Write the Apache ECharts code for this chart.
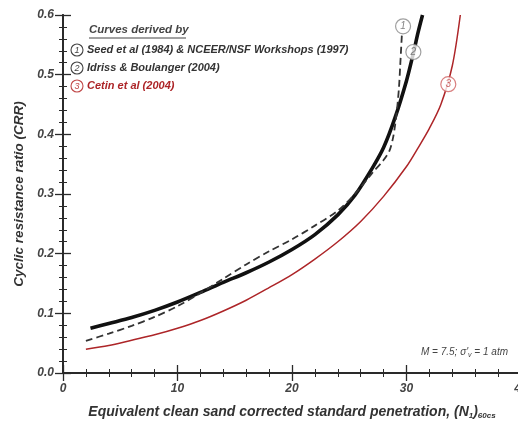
<!DOCTYPE html>
<html>
<head>
<meta charset="utf-8">
<script src="https://cdn.jsdelivr.net/npm/echarts@6/dist/echarts.min.js"></script>
<style>
html,body{margin:0;padding:0;background:#fff;}
#c{width:518px;height:425px;}
</style>
</head>
<body>
<div id="c"></div>
<script>
// ---- data ----
const seedN   = [2.4, 4, 6, 8, 10, 12, 14, 16, 18, 20, 22, 24, 25.5, 27, 28, 29, 30, 30.6, 31, 31.4];
const seedCRR = [0.075, 0.083, 0.093, 0.105, 0.119, 0.135, 0.152, 0.168, 0.186, 0.207, 0.232, 0.265, 0.298, 0.343, 0.378, 0.428, 0.49, 0.536, 0.57, 0.6];

const idrissN   = [2, 4, 6, 8, 10, 12, 14, 16, 18, 20, 22, 24, 25.5, 27, 28, 28.5, 28.8, 29.0, 29.2, 29.35, 29.45, 29.6];
const idrissCRR = [0.054, 0.066, 0.079, 0.094, 0.112, 0.134, 0.158, 0.182, 0.204, 0.224, 0.247, 0.272, 0.300, 0.335, 0.357, 0.372, 0.392, 0.415, 0.447, 0.48, 0.515, 0.568];

const cetinN   = [2, 4, 6, 8, 10, 12, 14, 16, 18, 20, 22, 24, 26, 28, 30, 31, 32, 33, 34, 34.7];
const cetinCRR = [0.040, 0.046, 0.055, 0.064, 0.075, 0.088, 0.104, 0.122, 0.143, 0.165, 0.191, 0.220, 0.254, 0.296, 0.346, 0.377, 0.41, 0.45, 0.515, 0.6];

// curve labels (circled numbers) placed on the curves
const curveLabels = ['1', '2', '3'];
const curveLabelN = [29.7, 30.6, 33.65];
const curveLabelCRR = [0.581, 0.538, 0.484];

const legendItems = [
  'Seed et al (1984) & NCEER/NSF Workshops (1997)',
  'Idriss & Boulanger (2004)',
  'Cetin et al (2004)'
];
const xTicks = [0, 10, 20, 30, 40];
const yTicks = [0.0, 0.1, 0.2, 0.3, 0.4, 0.5, 0.6];

const RED = '#ad2528';
const AXIS = '#2a2a2a';
const FONT = '"Liberation Sans", Arial, sans-serif';

const zip = (a, b) => a.map((v, i) => [v, b[i]]);

const chart = echarts.init(document.getElementById('c'), null, {renderer: 'canvas'});

const GRID = {left: 63, top: 15, right: -3, bottom: 52, containLabel: false, outerBoundsMode: 'none'};

const majorTick = {
  axisLine: {show: true, lineStyle: {color: AXIS, width: 1.8}},
  axisTick: {show: true, inside: true, length: 8, lineStyle: {color: AXIS, width: 1.3}},
  minorTick: {show: false},
  splitLine: {show: false}
};
const minorTickAxis = {
  axisLine: {show: true, lineStyle: {color: AXIS, width: 1.8, opacity: 0}},
  axisTick: {show: true, inside: true, length: 4, lineStyle: {color: AXIS, width: 1}},
  axisLabel: {show: false},
  splitLine: {show: false}
};

const labelStyle = {fontFamily: FONT, fontStyle: 'italic', fontWeight: 'bold', fontSize: 12, color: '#444'};

chart.setOption({
  animation: false,
  backgroundColor: '#fff',
  grid: [GRID, Object.assign({}, GRID)],
  xAxis: [
    Object.assign({
      gridIndex: 0, type: 'value', min: 0, max: 40, interval: 10, position: 'bottom',
      axisLabel: Object.assign({margin: 10, formatter: v => xTicks.includes(v) ? String(v) : ''}, labelStyle),
      name: '{t|Equivalent clean sand corrected standard penetration, (N}{s|1}{t|)}{s|60cs}',
      nameLocation: 'middle', nameGap: 31,
      nameTextStyle: {
        rich: {
          t: {fontFamily: FONT, fontStyle: 'italic', fontWeight: 'bold', fontSize: 14, color: '#333'},
          s: {fontFamily: FONT, fontStyle: 'italic', fontWeight: 'bold', fontSize: 8, color: '#333', verticalAlign: 'bottom', padding: [8, 0, 0, 0]}
        }
      }
    }, majorTick),
    Object.assign({
      gridIndex: 0, type: 'value', min: 0, max: 40, interval: 10, position: 'top',
      axisLabel: {show: false}
    }, majorTick),
    Object.assign({gridIndex: 1, type: 'value', min: 0, max: 40, interval: 2, position: 'bottom'}, minorTickAxis),
    Object.assign({gridIndex: 1, type: 'value', min: 0, max: 40, interval: 2, position: 'top'}, minorTickAxis)
  ],
  yAxis: [
    Object.assign({
      gridIndex: 0, type: 'value', min: 0, max: 0.6, interval: 0.1, position: 'left',
      axisLabel: Object.assign({margin: 9, formatter: v => v.toFixed(1)}, labelStyle),
      name: 'Cyclic resistance ratio (CRR)',
      nameLocation: 'middle', nameGap: 37, nameRotate: 90,
      nameTextStyle: {fontFamily: FONT, fontStyle: 'italic', fontWeight: 'bold', fontSize: 13.5, color: '#333'}
    }, majorTick),
    Object.assign({
      gridIndex: 0, type: 'value', min: 0, max: 0.6, interval: 0.1, position: 'right',
      axisLabel: {show: false}
    }, majorTick),
    Object.assign({gridIndex: 1, type: 'value', min: 0, max: 0.6, interval: 0.02, position: 'left'}, minorTickAxis),
    Object.assign({gridIndex: 1, type: 'value', min: 0, max: 0.6, interval: 0.02, position: 'right'}, minorTickAxis)
  ],
  series: [
    {
      name: legendItems[0], type: 'line', data: zip(seedN, seedCRR),
      xAxisIndex: 0, yAxisIndex: 0,
      smooth: 0.3, showSymbol: false,
      lineStyle: {color: '#111', width: 3.6}, z: 3
    },
    {
      name: legendItems[1], type: 'line', data: zip(idrissN, idrissCRR),
      xAxisIndex: 0, yAxisIndex: 0,
      smooth: 0.3, showSymbol: false,
      lineStyle: {color: '#333', width: 1.8, type: [7, 4]}, z: 4
    },
    {
      name: legendItems[2], type: 'line', data: zip(cetinN, cetinCRR),
      xAxisIndex: 0, yAxisIndex: 0,
      smooth: 0.3, showSymbol: false,
      lineStyle: {color: RED, width: 1.5}, z: 3
    },
    {
      type: 'scatter', z: 5, xAxisIndex: 0, yAxisIndex: 0,
      data: curveLabels.map((t, i) => ({
        value: [curveLabelN[i], curveLabelCRR[i]],
        itemStyle: {color: '#fff', borderColor: i === 2 ? '#d06060' : '#888', borderWidth: 1.2},
        label: {color: i === 2 ? '#c04848' : '#666'}
      })),
      symbol: 'circle', symbolSize: 15,
      label: {show: true, position: 'inside', formatter: p => curveLabels[p.dataIndex],
              fontFamily: FONT, fontSize: 10, fontStyle: 'italic'}
    }
  ],
  graphic: [
    {type: 'text', left: 89, top: 24, style: {text: 'Curves derived by', font: 'italic bold 11.5px ' + FONT, fill: '#444'}},
    {type: 'line', shape: {x1: 89, y1: 38, x2: 186, y2: 38}, style: {stroke: '#444', lineWidth: 1}},
    ...legendItems.flatMap((t, i) => {
      const y = 50 + i * 18;
      const col = i === 2 ? RED : '#333';
      const ccol = i === 2 ? '#c04848' : '#444';
      return [
        {type: 'circle', shape: {cx: 77, cy: y, r: 6}, style: {fill: '#fff', stroke: ccol, lineWidth: 1.1}},
        {type: 'text', x: 77, y: y, style: {text: String(i + 1), font: 'italic 9px ' + FONT, fill: ccol, align: 'center', verticalAlign: 'middle'}},
        {type: 'text', x: 87, y: y, style: {text: t, font: 'italic bold 11px ' + FONT, fill: col, verticalAlign: 'middle'}}
      ];
    }),
    {type: 'text', x: 508, y: 352, style: {
      rich: {
        a: {font: 'italic 10px ' + FONT, fill: '#444'},
        b: {font: 'italic 7px ' + FONT, fill: '#444', verticalAlign: 'bottom', padding: [6, 0, 0, 0]}
      },
      text: "{a|M = 7.5; σ'}{b|v}{a| = 1 atm}", align: 'right', verticalAlign: 'middle'
    }}
  ]
});
</script>
</body>
</html>
